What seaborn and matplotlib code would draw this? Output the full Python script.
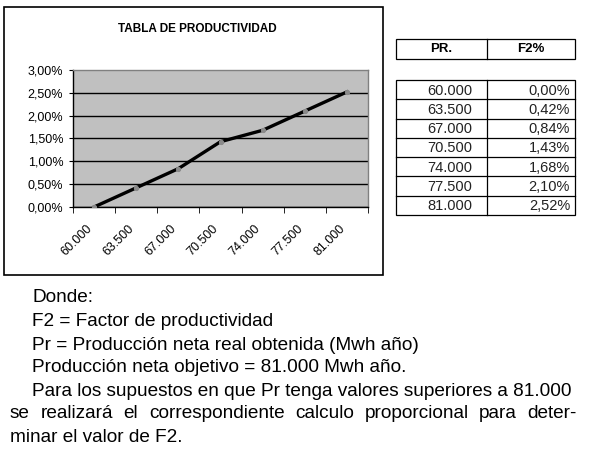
import numpy as np
import pandas as pd
import matplotlib
matplotlib.use('Agg')
import matplotlib.pyplot as plt
from matplotlib.patches import Rectangle
from matplotlib.ticker import FuncFormatter
from matplotlib.transforms import ScaledTranslation
import seaborn as sns

# data
pr = [60000, 63500, 67000, 70500, 74000, 77500, 81000]
f2 = [0.00, 0.42, 0.84, 1.43, 1.68, 2.10, 2.52]
chart_title = 'TABLA DE PRODUCTIVIDAD'
table_header = ['PR.', 'F2%']
notes_indented = [
    'Donde:',
    'F2 = Factor de productividad',
    'Pr = Producción neta real obtenida (Mwh año)',
    'Producción neta objetivo = 81.000 Mwh año.',
    'Para los supuestos en que Pr tenga valores superiores a 81.000',
]
note_justified = 'se realizará el correspondiente calculo proporcional para deter-'
note_last = 'minar el valor de F2.'

pr_labels = [f'{v:,}'.replace(',', '.') for v in pr]
f2_labels = [f'{v:.2f}%'.replace('.', ',') for v in f2]

plt.rcParams['font.family'] = ['Liberation Sans', 'DejaVu Sans']

W, H = 592, 450
fig = plt.figure(figsize=(W / 100, H / 100), dpi=100)
fig.patch.set_facecolor('white')

# chart
ax = fig.add_axes([73 / W, 1 - 207 / H, 295 / W, 137 / H])
ax.set_facecolor('#c0c0c0')
df = pd.DataFrame({'pos': range(len(pr)), 'f2': f2})
sns.lineplot(data=df, x='pos', y='f2', ax=ax, color='black', lw=2.4,
             marker='o', markersize=3, markerfacecolor='#8a8a8a',
             markeredgecolor='#8a8a8a', zorder=3)
ax.set_xlim(-0.5, len(pr) - 0.5)
ax.set_ylim(0, 3)
ax.set_yticks(np.arange(0, 3.01, 0.5))
ax.yaxis.set_major_formatter(FuncFormatter(lambda v, _: f'{v:.2f}%'.replace('.', ',')))
ax.yaxis.grid(True, color='black', lw=1)
ax.get_ygridlines()[-1].set_visible(False)
ax.set_axisbelow(True)
ax.set_xticks(range(len(pr)))
ax.set_xticklabels(pr_labels, rotation=45, ha='right', va='center', rotation_mode='anchor')
ax.set_xticks(np.arange(-0.5, len(pr), 1), minor=True)
ax.tick_params(axis='x', which='major', length=0, pad=14, labelsize=9)
ax.tick_params(axis='x', which='minor', length=4, direction='out', color='black')
ax.tick_params(axis='y', length=3, direction='out', color='black', labelsize=9, pad=4)
shift = ScaledTranslation(-4 / 100, 0, fig.dpi_scale_trans)
for lab in ax.get_xticklabels():
    lab.set_transform(lab.get_transform() + shift)
ax.set_xlabel('')
ax.set_ylabel('')
for side in ['left', 'bottom']:
    ax.spines[side].set_color('black')
    ax.spines[side].set_linewidth(1)
for side in ['top', 'right']:
    ax.spines[side].set_color('#808080')
    ax.spines[side].set_linewidth(1)

# overlay in pixel coordinates
ov = fig.add_axes([0, 0, 1, 1], zorder=5)
ov.set_xlim(0, W)
ov.set_ylim(H, 0)
ov.axis('off')

ov.add_patch(Rectangle((4, 7), 379, 268, fill=False, ec='black', lw=1.2))
ov.text(197, 29, chart_title, ha='center', va='center', fontsize=8.5, fontweight='bold')

# table
tl, tm, tr = 396, 487, 575
ov.add_patch(Rectangle((tl, 39), tr - tl, 20, fill=False, ec='black', lw=0.9))
ov.plot([tm, tm], [39, 59], color='black', lw=0.9)
ov.text((tl + tm) / 2, 49.5, table_header[0], ha='center', va='center', fontsize=9.5, fontweight='bold')
ov.text((tm + tr) / 2, 49.5, table_header[1], ha='center', va='center', fontsize=9.5, fontweight='bold')

top, bot = 80, 215
rh = (bot - top) / len(pr)
ov.add_patch(Rectangle((tl, top), tr - tl, bot - top, fill=False, ec='black', lw=0.9))
ov.plot([tm, tm], [top, bot], color='black', lw=0.9)
for i in range(1, len(pr)):
    ov.plot([tl, tr], [top + i * rh, top + i * rh], color='black', lw=0.9)
for i, (a, b) in enumerate(zip(pr_labels, f2_labels)):
    yc = top + (i + 0.55) * rh
    ov.text(472, yc, a, ha='right', va='center', fontsize=10.5, color='#222222')
    ov.text(570, yc, b, ha='right', va='center', fontsize=10.5, color='#222222')

# notes
fig.canvas.draw()
renderer = fig.canvas.get_renderer()
probe = ov.text(0, 0, notes_indented[-1], fontsize=10)
fs = 10 * 545 / probe.get_window_extent(renderer).width
probe.remove()

ys = [298, 322, 345, 368, 391, 414, 437]
for y, line in zip(ys, notes_indented):
    ov.text(32, y, line, ha='left', va='center', fontsize=fs)

words = note_justified.split()
texts = [ov.text(0, ys[5], w, ha='left', va='center', fontsize=fs) for w in words]
widths = [t.get_window_extent(renderer).width for t in texts]
gap = (577 - 10 - sum(widths)) / (len(words) - 1)
x = 10
for t, w in zip(texts, widths):
    t.set_x(x)
    x += w + gap
ov.text(10, ys[6], note_last, ha='left', va='center', fontsize=fs)

fig.savefig('out.png', dpi=100, facecolor='white')
